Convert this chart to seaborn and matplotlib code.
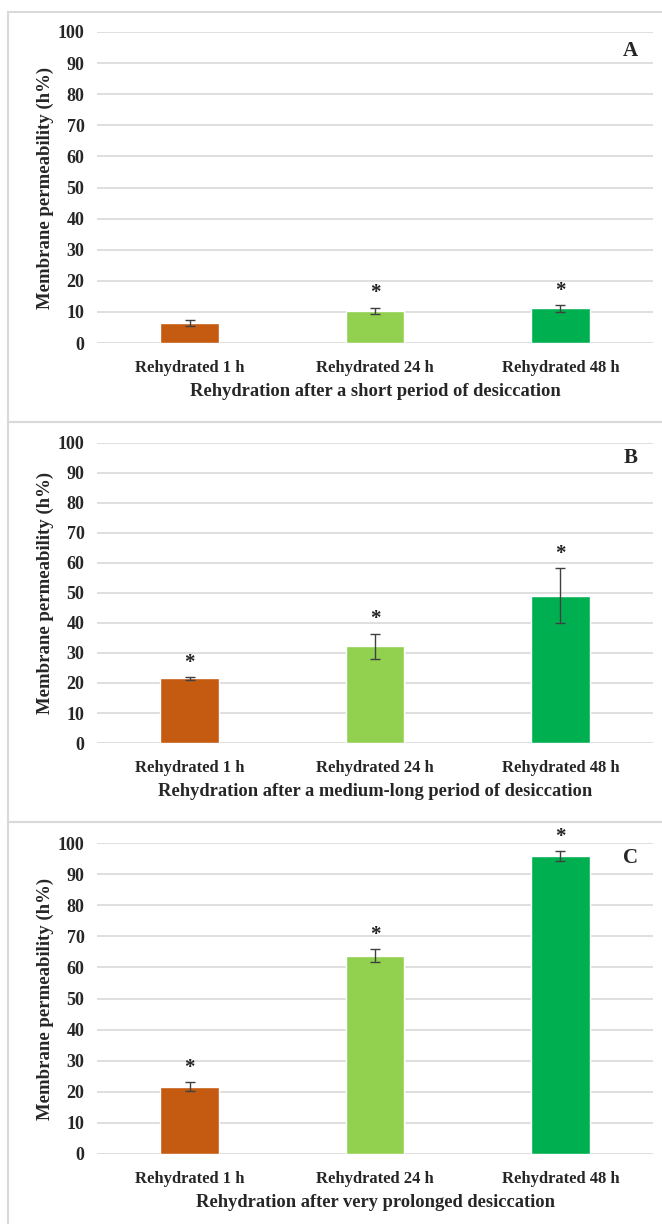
import matplotlib
matplotlib.use("Agg")
import matplotlib.pyplot as plt
import pandas as pd
import seaborn as sns
from matplotlib.patches import Rectangle

# data
categories = ["Rehydrated 1 h", "Rehydrated 24 h", "Rehydrated 48 h"]
bar_colors = ["#C55A11", "#92D050", "#00B050"]

values_a = [6.5, 10.3, 11.1]
errors_a = [0.9, 1.1, 1.2]
stars_a = [False, True, True]

values_b = [21.6, 32.3, 49.1]
errors_b = [0.5, 4.2, 9.2]
stars_b = [True, True, True]

values_c = [21.7, 63.7, 95.8]
errors_c = [1.5, 2.1, 1.5]
stars_c = [True, True, True]

panel_letters = ["A", "B", "C"]
x_titles = [
    "Rehydration after a short period of desiccation",
    "Rehydration after a medium-long period of desiccation",
    "Rehydration after very prolonged desiccation",
]
y_title = "Membrane permeability (h%)"
y_ticks = [0, 10, 20, 30, 40, 50, 60, 70, 80, 90, 100]

sns.set_style("white")
plt.rcParams['font.family'] = ['Liberation Serif', 'DejaVu Serif']
plt.rcParams['font.weight'] = 'bold'

W, H = 662, 1224
fig = plt.figure(figsize=(W / 100, H / 100), dpi=100)

# panel boxes (pixel coords, top origin)
boxes = [(12, 422), (422, 822), (822, 1230)]
# axes: top (y=100) and bottom (y=0) in pixels
axes_px = [(32, 343), (443, 743), (843, 1154)]
ax_left, ax_right = 97, 653
letter_y = [0.94, 0.95, 0.952]

panels = [
    (values_a, errors_a, stars_a),
    (values_b, errors_b, stars_b),
    (values_c, errors_c, stars_c),
]

for i, (vals, errs, stars) in enumerate(panels):
    top, bottom = boxes[i]
    fig.patches.append(Rectangle((8 / W, 1 - bottom / H), (W + 10) / W, (bottom - top) / H,
                                 transform=fig.transFigure, fill=False,
                                 edgecolor="#D9D9D9", linewidth=1.5))

    a_top, a_bot = axes_px[i]
    ax = fig.add_axes([ax_left / W, 1 - a_bot / H, (ax_right - ax_left) / W, (a_bot - a_top) / H])

    df = pd.DataFrame({"cat": categories, "val": vals})
    sns.barplot(data=df, x="cat", y="val", hue="cat", palette=bar_colors, saturation=1,
                width=0.315, errorbar=None, legend=False, ax=ax, zorder=3)
    ax.errorbar(range(len(vals)), vals, yerr=errs, fmt="none", ecolor="#404040",
                elinewidth=1.0, capsize=3.5, capthick=1.0, zorder=4)

    for j, flag in enumerate(stars):
        if flag:
            ax.annotate("*", (j, vals[j] + errs[j]), xytext=(0, 3), textcoords="offset points",
                        ha="center", va="bottom", fontsize=15, fontweight="bold", color="#222222")

    ax.set_ylim(0, 100)
    ax.set_xlim(-0.5, 2.5)
    ax.set_yticks(y_ticks)
    ax.grid(axis="y", color="#D9D9D9", linewidth=1.2, zorder=0)
    ax.set_axisbelow(True)
    for s in ax.spines.values():
        s.set_visible(False)
    ax.tick_params(axis="x", length=0, labelsize=12, pad=12)
    ax.tick_params(axis="y", length=0, labelsize=13, pad=9)
    for lab in ax.get_xticklabels() + ax.get_yticklabels():
        lab.set_fontweight("bold")
    ax.set_xlabel(x_titles[i], fontsize=13.3, fontweight="bold", labelpad=5)
    ax.set_ylabel(y_title, fontsize=13.5, fontweight="bold")
    ax.yaxis.set_label_coords(-0.078, 0.5)
    ax.text(0.96, letter_y[i], panel_letters[i], transform=ax.transAxes,
            ha="center", va="center", fontsize=15, fontweight="bold")

fig.savefig("out.png", dpi=100)
